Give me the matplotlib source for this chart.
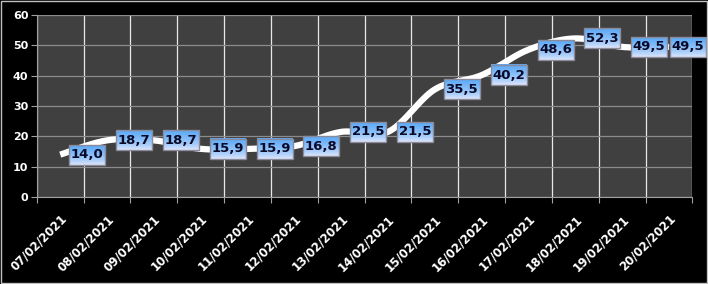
import numpy as np
import matplotlib
matplotlib.use("Agg")
from matplotlib import pyplot as plt
from matplotlib.patches import Rectangle

dates = ["07/02/2021", "08/02/2021", "09/02/2021", "10/02/2021", "11/02/2021",
         "12/02/2021", "13/02/2021", "14/02/2021", "15/02/2021", "16/02/2021",
         "17/02/2021", "18/02/2021", "19/02/2021", "20/02/2021"]
values = [14.0, 18.7, 18.7, 15.9, 15.9, 16.8, 21.5, 21.5, 35.5, 40.2, 48.6, 52.3, 49.5, 49.5]
yticks = [0, 10, 20, 30, 40, 50, 60]


def catmull(x, y, n=20):
    # smoothed line like a spreadsheet "smoothed line"
    px = np.concatenate([[x[0]], x, [x[-1]]])
    py = np.concatenate([[y[0]], y, [y[-1]]])
    xs, ys = [], []
    t = np.linspace(0, 1, n)
    for i in range(1, len(px) - 2):
        p0, p1, p2, p3 = [np.array([px[j], py[j]]) for j in range(i - 1, i + 3)]
        m1 = (p2 - p0) / 6
        m2 = (p3 - p1) / 6
        b1 = p1 + m1
        b2 = p2 - m2
        pts = ((1 - t) ** 3)[:, None] * p1 + (3 * (1 - t) ** 2 * t)[:, None] * b1 \
            + (3 * (1 - t) * t ** 2)[:, None] * b2 + (t ** 3)[:, None] * p2
        xs.extend(pts[:, 0])
        ys.extend(pts[:, 1])
    return np.array(xs), np.array(ys)


fig = plt.figure(figsize=(7.08, 2.84), dpi=100, facecolor="black")
ax = fig.add_axes([0.052, 0.306, 0.926, 0.641])
ax.set_facecolor("#404040")

x = np.arange(len(values))
sx, sy = catmull(x, np.array(values))
ax.plot(sx, sy, color="white", lw=4.5, solid_capstyle="butt", zorder=3)

ax.set_xlim(-0.5, len(values) - 0.5)
ax.set_ylim(0, 60)
ax.set_yticks(yticks)
ax.set_yticklabels([str(v) for v in yticks], color="white", fontweight="bold", fontsize=8)
ax.set_xticks(np.arange(len(values) + 1) - 0.5, minor=False)
ax.set_xticklabels([])
ax.set_xticks(x, minor=True)
ax.set_xticklabels(dates, minor=True, rotation=45, ha="right", rotation_mode="anchor",
                   color="white", fontweight="bold", fontsize=8.5)
ax.tick_params(axis="x", which="minor", length=0, pad=11)
ax.tick_params(axis="x", which="major", length=4, color="#a0a0a0")
ax.tick_params(axis="y", length=4, color="#a0a0a0", pad=2)
ax.grid(axis="y", color="#8c8c8c", lw=0.9, zorder=1)
ax.grid(axis="x", which="major", color="#e8e8e8", lw=0.9, zorder=1)
ax.set_axisbelow(True)
for s in ["top", "right"]:
    ax.spines[s].set_visible(False)
ax.spines["left"].set_color("#a0a0a0")
ax.spines["bottom"].set_color("#a0a0a0")

# data labels with gradient boxes, kept inside the picture
fig.canvas.draw()
grad = np.linspace(0, 1, 64)[:, None] ** 0.6
top = np.array([0.35, 0.66, 0.97])
bot = np.array([0.93, 0.93, 0.99])
# row 0 = bottom colour, drawn with origin="lower"
img = bot[None, None, :] * (1 - grad[:, :, None]) + top[None, None, :] * grad[:, :, None]
inv = ax.transData.inverted()
W = fig.bbox.width
for xi, v in zip(x, values):
    px, py = ax.transData.transform((xi, v))
    cx = min(px + 27, W - 20)
    x0, y0 = inv.transform((cx - 18, py - 10))
    x1, y1 = inv.transform((cx + 18, py + 10))
    xc, yc = inv.transform((cx, py))
    ax.imshow(img, extent=[x0, x1, y0, y1], aspect="auto", zorder=4, clip_on=False,
              origin="lower", interpolation="bilinear")
    ax.add_patch(Rectangle((x0, y0), x1 - x0, y1 - y0, fill=False, ec="#8a8a9a",
                           lw=1, zorder=5, clip_on=False))
    ax.text(xc, yc, f"{v:.1f}".replace(".", ","), ha="center", va="center",
            fontsize=9.5, fontweight="bold", color="#0a0a28", zorder=6,
            clip_on=False)
ax.set_xlim(-0.5, len(values) - 0.5)
ax.set_ylim(0, 60)

fig.patches.append(Rectangle((0.001, 0.002), 0.997, 0.995, transform=fig.transFigure,
                             fill=False, ec="#c0c0c0", lw=1))
fig.savefig("out.png", dpi=100, facecolor="black")
